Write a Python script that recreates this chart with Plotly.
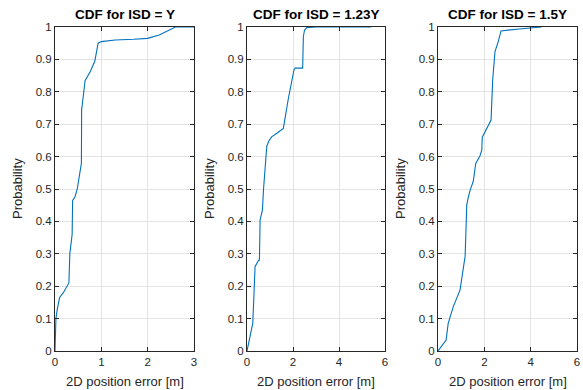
import plotly.graph_objects as go

# CDF of the 2D position error for three inter-site distances (ISD)
titles = ["CDF for ISD = Y", "CDF for ISD = 1.23Y", "CDF for ISD = 1.5Y"]

err_y = [0, 0.005, 0.02, 0.05, 0.1, 0.18, 0.3, 0.32, 0.33, 0.37, 0.38, 0.43, 0.48,
         0.57, 0.575, 0.58, 0.65, 0.76, 0.86, 0.91, 0.93, 1.0, 1.3, 1.7, 2.0, 2.25,
         2.45, 2.6, 3.0]
cdf_y = [0, 0.05, 0.1, 0.13, 0.165, 0.18, 0.21, 0.3, 0.31, 0.36, 0.465, 0.475, 0.5,
         0.58, 0.75, 0.75, 0.835, 0.862, 0.895, 0.944, 0.95, 0.955, 0.96, 0.962, 0.965,
         0.975, 0.99, 1.0, 1.0]

err_123 = [0, 0.1, 0.2, 0.25, 0.3, 0.35, 0.5, 0.54, 0.57, 0.67, 0.72, 0.78, 0.81, 0.86,
           0.95, 1.07, 1.3, 1.58, 1.8, 2.04, 2.09, 2.42, 2.45, 2.5, 2.6, 3.0, 5.4]
cdf_123 = [0, 0.03, 0.06, 0.085, 0.17, 0.26, 0.28, 0.28, 0.405, 0.435, 0.5, 0.56, 0.61,
           0.632, 0.648, 0.661, 0.672, 0.687, 0.78, 0.867, 0.873, 0.873, 0.97, 0.99,
           0.998, 1.0, 1.0]

err_15 = [0, 0.35, 0.44, 0.66, 0.95, 1.09, 1.17, 1.22, 1.24, 1.31, 1.38, 1.52, 1.63,
          1.81, 1.89, 1.91, 2.1, 2.29, 2.36, 2.42, 2.46, 2.6, 2.72, 3.5, 4.47]
cdf_15 = [0, 0.034, 0.085, 0.137, 0.188, 0.26, 0.292, 0.4, 0.451, 0.475, 0.495, 0.523,
          0.579, 0.602, 0.62, 0.66, 0.687, 0.713, 0.836, 0.903, 0.924, 0.955, 0.988,
          0.994, 1.0]

x_ranges = [[0, 3], [0, 6], [0, 6]]
x_ticks = [[0, 1, 2, 3], [0, 2, 4, 6], [0, 2, 4, 6]]
y_ticks = [round(i * 0.1, 1) for i in range(11)]
y_ticklabels = ["0"] + [f"{v:.1f}" for v in y_ticks[1:-1]] + ["1"]

series = [(err_y, cdf_y), (err_123, cdf_123), (err_15, cdf_15)]

W, H = 583, 390
x_domains = [[55 / W, 194 / W], [247 / W, 385 / W], [438 / W, 577 / W]]
y_domain = [(H - 351) / H, (H - 27) / H]

FONT = "Liberation Sans, Arial, Helvetica, sans-serif"
AXC = "#262626"
BLUE = "#0072BD"

fig = go.Figure()
annotations = []
for i, (xs, ys) in enumerate(series):
    n = "" if i == 0 else str(i + 1)
    fig.add_trace(go.Scatter(x=xs, y=ys, mode="lines",
                             line=dict(color=BLUE, width=1.1),
                             xaxis="x" + n, yaxis="y" + n, showlegend=False))
    common = dict(showline=True, linecolor=AXC, linewidth=1, mirror="ticks",
                  ticks="inside", ticklen=4, tickcolor=AXC, tickwidth=1,
                  showgrid=True, gridcolor="#e3e3e3", gridwidth=1, zeroline=False,
                  automargin=False,
                  tickfont=dict(family=FONT, size=11.5, color=AXC))
    fig.update_layout(**{
        "xaxis" + n: dict(domain=x_domains[i], range=x_ranges[i], tickvals=x_ticks[i],
                          anchor="y" + n, **common),
        "yaxis" + n: dict(domain=y_domain, range=[0, 1], tickvals=y_ticks,
                          ticktext=y_ticklabels, anchor="x" + n, **common),
    })
    cx = (x_domains[i][0] + x_domains[i][1]) / 2
    annotations.append(dict(text=f"<b>{titles[i]}</b>", x=cx, y=(H - 15) / H,
                            xref="paper", yref="paper", showarrow=False,
                            xanchor="center", yanchor="middle",
                            font=dict(family=FONT, size=13.5, color="black")))
    annotations.append(dict(text="2D position error [m]", x=cx, y=(H - 381) / H,
                            xref="paper", yref="paper", showarrow=False,
                            xanchor="center", yanchor="middle",
                            font=dict(family=FONT, size=13, color=AXC)))
    annotations.append(dict(text="Probability", x=(x_domains[i][0] * W - 37) / W,
                            y=(y_domain[0] + y_domain[1]) / 2,
                            xref="paper", yref="paper", showarrow=False,
                            textangle=-90, xanchor="center", yanchor="middle",
                            font=dict(family=FONT, size=13, color=AXC)))

fig.update_layout(width=W, height=H, margin=dict(l=0, r=0, t=0, b=0),
                  paper_bgcolor="white", plot_bgcolor="white",
                  annotations=annotations)

fig.write_html("out.html")
